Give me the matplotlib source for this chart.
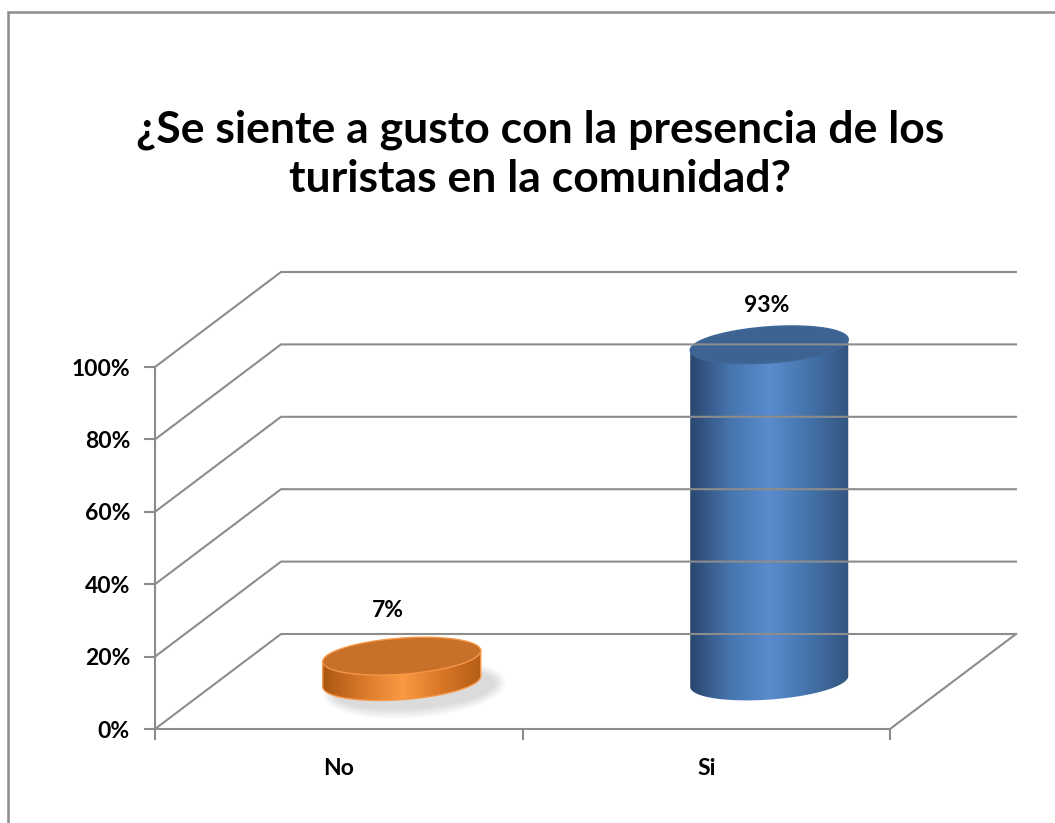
import matplotlib
matplotlib.use("Agg")
import matplotlib.pyplot as plt
import numpy as np
from matplotlib.patches import PathPatch, Rectangle, Polygon
from matplotlib.path import Path
from matplotlib.transforms import Affine2D
from matplotlib.colors import LinearSegmentedColormap

categories = ["No", "Si"]
values = [7, 93]
value_labels = ["7%", "93%"]
yticks = [0, 20, 40, 60, 80, 100]
ytick_labels = ["0%", "20%", "40%", "60%", "80%", "100%"]
title = "¿Se siente a gusto con la presencia de los\nturistas en la comunidad?"

FONT = ["Lato", "DejaVu Sans"]
plt.rcParams["font.family"] = FONT

W, H = 1055, 823
fig = plt.figure(figsize=(W / 100, H / 100), dpi=100)
fig.patch.set_facecolor("white")

# outer frame
fig.add_artist(Rectangle((8 / W, -0.1), 1.2, 1 - 12 / H + 0.1, transform=fig.transFigure,
                         fill=False, edgecolor="#8c8c8c", linewidth=1.8))

fig.text(540 / W, 1 - 154 / H, title, ha="center", va="center", fontsize=32,
         fontweight="bold", linespacing=1.27)

# axes: front plane; 0..100 maps to 729..367 px, extended upwards for room
Y0PX, Y100PX, YTOPPX = 729, 367, 250
ytop = 100 * (Y0PX - YTOPPX) / (Y0PX - Y100PX)
ax = fig.add_axes([155 / W, 1 - Y0PX / H, 735 / W, (Y0PX - YTOPPX) / H])
ax.set_xlim(-0.5, 1.5)
ax.set_ylim(0, ytop)
ax.patch.set_visible(False)
for s in ["top", "right"]:
    ax.spines[s].set_visible(False)
for s in ["left", "bottom"]:
    ax.spines[s].set_color("#8c8c8c")
    ax.spines[s].set_linewidth(1.5)
ax.spines["left"].set_bounds(0, 100)

ax.set_yticks(yticks)
ax.set_yticklabels(ytick_labels, fontsize=16.5, fontweight="bold")
ax.set_xticks([-0.5, 0.5, 1.5])
ax.set_xticklabels([])
ax.set_xticks(range(len(categories)), minor=True)
ax.set_xticklabels(categories, minor=True, fontsize=16.5, fontweight="bold")
ax.tick_params(axis="both", which="major", direction="out", length=8, color="#8c8c8c", width=1.5)
ax.tick_params(axis="y", pad=10)
ax.tick_params(axis="x", which="minor", length=0, pad=21)

DX, DY = 126, 95
back = ax.transData + Affine2D().translate(DX, DY)
mid = ax.transData + Affine2D().translate(DX / 2, DY / 2)

gc = "#8c8c8c"
x0, x1 = ax.get_xlim()
inv = fig.transFigure.inverted()
for v in yticks:
    pts = inv.transform(np.array([ax.transData.transform((x0, v)), back.transform((x0, v)),
                                  back.transform((x1, v))]))
    fig.add_artist(plt.Line2D(pts[:, 0], pts[:, 1], color=gc, lw=1.5, transform=fig.transFigure))
# floor right edge
pts = inv.transform(np.array([ax.transData.transform((x1, 0)), back.transform((x1, 0))]))
fig.add_artist(plt.Line2D(pts[:, 0], pts[:, 1], color=gc, lw=1.5, transform=fig.transFigure))

A = 0.215  # half width in category units
B = 5.0    # ellipse half height in value units
K = 7.0    # perspective tilt (value units per category unit)

styles = [
    dict(grad=["#a95712", "#d9782a", "#fb9a42", "#d87626", "#b35e16"], top="#c6702a", edge="#f79646"),
    dict(grad=["#2a466e", "#4675ad", "#5a8cce", "#4473aa", "#33557f"], top="#3d6393", edge="#3f6898"),
]


def ell(cx, cy, a, b, t):
    return cx + a * np.cos(t), cy + b * np.sin(t) + K * a * np.cos(t)


for i, (v, st) in enumerate(zip(values, styles)):
    cx = i
    if i == 0:
        tt = np.linspace(0, 2 * np.pi, 100)
        for k in range(6):
            ex, ey = ell(cx + 0.035, -2.0, A * (1.02 + 0.025 * k), B * (1.1 + 0.1 * k), tt)
            ax.add_patch(Polygon(np.column_stack([ex, ey]), closed=True, facecolor="#707070",
                                 edgecolor="none", alpha=0.045, transform=mid, zorder=1.5))
    # body path: sides + lower half ellipse at bottom
    t = np.linspace(np.pi, 2 * np.pi, 80)
    bx, by = ell(cx, 0, A, B, t)
    verts = [(cx - A, v - K * A)] + list(zip(bx, by)) + [(cx + A, v + K * A), (cx - A, v - K * A)]
    codes = [Path.MOVETO] + [Path.LINETO] * (len(verts) - 2) + [Path.CLOSEPOLY]
    body = PathPatch(Path(verts, codes), facecolor="none", edgecolor="none", transform=mid)
    ax.add_patch(body)
    cmap = LinearSegmentedColormap.from_list("g%d" % i, st["grad"])
    grad = np.linspace(0, 1, 256)[None, :]
    im = ax.imshow(grad, cmap=cmap, extent=[cx - A, cx + A, -B - K * A - 1, v + K * A + 1],
                   aspect="auto", transform=mid, interpolation="bilinear", zorder=2)
    im.set_clip_path(body)
    if i == 0:
        ax.add_patch(PathPatch(Path(verts[:-1]), facecolor="none", edgecolor=st["edge"],
                               lw=1.0, transform=mid, zorder=2.5))
    tt = np.linspace(0, 2 * np.pi, 120)
    ex, ey = ell(cx, v, A, B, tt)
    ax.add_patch(Polygon(np.column_stack([ex, ey]), closed=True, facecolor=st["top"],
                         edgecolor=st["edge"], lw=1.0, transform=mid, zorder=3))
    ax.annotate(value_labels[i], xy=(cx, v), xycoords=mid,
                xytext=(-10 if i == 0 else -2, 33 if i == 0 else 28),
                textcoords="offset points", ha="center", va="center",
                fontsize=16.5, fontweight="bold", annotation_clip=False)

ax.set_xlim(x0, x1)
ax.set_ylim(0, ytop)

fig.savefig("out.png", dpi=100)
